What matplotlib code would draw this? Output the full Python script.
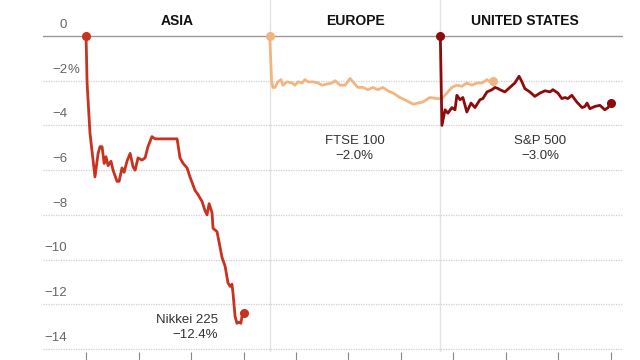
import matplotlib
matplotlib.use('Agg')
import matplotlib.pyplot as plt

# hours relative to midnight ET, values are % change from previous close
nikkei_x = [-4.0, -3.96, -3.85, -3.66, -3.54, -3.47, -3.39, -3.31, -3.24, -3.16, -3.05, -2.97,
            -2.82, -2.74, -2.63, -2.55, -2.44, -2.32, -2.21, -2.13, -2.02, -1.87, -1.75, -1.64,
            -1.49, -1.37, -0.53, -0.42, -0.30, -0.15, -0.04, 0.15, 0.27, 0.42, 0.53, 0.61, 0.69,
            0.80, 0.84, 0.99, 1.10, 1.18, 1.30, 1.41, 1.49, 1.56, 1.60, 1.68, 1.75, 1.83, 1.90,
            1.94, 2.0]
nikkei_y = [0, -2.1, -4.35, -6.3, -5.25, -4.95, -4.95, -5.7, -5.4, -5.8, -5.6, -6.0,
            -6.5, -6.5, -5.9, -6.1, -5.6, -5.25, -5.85, -6.0, -5.45, -5.55, -5.45, -4.95,
            -4.5, -4.6, -4.6, -5.45, -5.7, -5.9, -6.3, -6.9, -7.1, -7.4, -7.8, -8.0, -7.5,
            -7.9, -8.6, -8.75, -9.4, -9.9, -10.3, -11.05, -11.2, -11.1, -11.5, -12.55, -12.85,
            -12.8, -12.85, -12.55, -12.4]

ftse_x = [3.0, 3.07, 3.12, 3.20, 3.31, 3.43, 3.50, 3.66, 3.85, 3.96, 4.08, 4.23, 4.34, 4.46,
          4.65, 4.84, 4.99, 5.18, 5.37, 5.49, 5.68, 5.87, 6.06, 6.17, 6.36, 6.55, 6.74, 6.93,
          7.12, 7.31, 7.50, 7.70, 7.96, 8.23, 8.46, 8.65, 8.84, 9.10, 9.37, 9.56, 9.75, 9.94,
          10.13, 10.32, 10.51, 10.70, 10.90, 11.09, 11.28, 11.39, 11.5]
ftse_y = [0, -2.0, -2.3, -2.3, -2.05, -1.95, -2.2, -2.05, -2.1, -2.2, -2.05, -2.1, -1.95, -2.05,
          -2.05, -2.1, -2.2, -2.15, -2.1, -2.0, -2.2, -2.2, -1.9, -2.05, -2.3, -2.3, -2.4, -2.3,
          -2.4, -2.3, -2.45, -2.55, -2.75, -2.9, -3.05, -3.0, -2.95, -2.75, -2.8, -2.8, -2.55, -2.3,
          -2.2, -2.25, -2.1, -2.2, -2.1, -2.1, -1.95, -2.05, -2.0]

spx_x = [9.5, 9.56, 9.68, 9.79, 9.94, 10.06, 10.13, 10.25, 10.36, 10.51, 10.67, 10.82, 11.01,
         11.12, 11.28, 11.47, 11.58, 11.70, 11.77, 11.96, 12.15, 12.34, 12.50, 12.61, 12.72,
         12.91, 13.10, 13.30, 13.49, 13.68, 13.79, 13.98, 14.13, 14.25, 14.36, 14.51, 14.70,
         14.90, 15.01, 15.09, 15.20, 15.39, 15.58, 15.77, 15.89, 16.0]
spx_y = [0, -4.0, -3.3, -3.45, -3.2, -3.3, -2.65, -2.85, -2.75, -3.4, -3.0, -3.2, -2.85,
         -2.8, -2.5, -2.4, -2.3, -2.35, -2.4, -2.5, -2.3, -2.1, -1.8, -2.05, -2.35,
         -2.5, -2.7, -2.55, -2.45, -2.5, -2.4, -2.55, -2.8, -2.75, -2.8, -2.65, -2.95,
         -3.2, -3.15, -3.0, -3.25, -3.15, -3.1, -3.3, -3.2, -3.0]

regions = ['ASIA', 'EUROPE', 'UNITED STATES']
region_x = [-0.53, 6.25, 12.72]
yticks = [0, -2, -4, -6, -8, -10, -12, -14]
xticks = list(range(-4, 17, 2))
session_starts = [3.0, 9.5]

plt.rcParams['font.family'] = ['Liberation Sans', 'DejaVu Sans']

fig = plt.figure(figsize=(6.4, 3.6), dpi=100)
ax = fig.add_axes([0.0672, 0.0222, 0.9062, 0.9778])
ax.set_xlim(-5.64, 16.46)
ax.set_ylim(-14.134, 1.611)

for s in ax.spines.values():
    s.set_visible(False)

# grid
for v in yticks:
    if v == 0:
        ax.axhline(v, color='#999999', lw=1.0, zorder=1)
    else:
        ax.axhline(v, color='#cfcfcf', lw=0.9, ls=(0, (1, 1)), zorder=1)
    lab = '0' if v == 0 else '\u2212' + str(abs(v))
    ax.text(-4.72, v + 0.5, lab, ha='right', va='center', fontsize=9.5, color='#666666')
    if v == -2:
        ax.text(-4.72, v + 0.5, '%', ha='left', va='center', fontsize=9.5, color='#666666')

for s in session_starts:
    ax.axvline(s, color='#e2e2e2', lw=1.0, zorder=0.5)

ax.set_yticks([])
ax.set_xticks(xticks)
ax.tick_params(axis='x', direction='out', length=6, width=0.8, color='#888888', labelbottom=False)

# lines
series = [(nikkei_x, nikkei_y, '#c9321f'), (ftse_x, ftse_y, '#f3b57f'), (spx_x, spx_y, '#8e0b0b')]
for xs, ys, c in series:
    ax.plot(xs, ys, color=c, lw=2.0, zorder=3, clip_on=False, solid_joinstyle='round')
    ax.plot([xs[0], xs[-1]], [ys[0], ys[-1]], 'o', color=c, ms=5.5, zorder=4, clip_on=False)

for name, x in zip(regions, region_x):
    ax.text(x, 0.68, name, ha='center', va='center', fontsize=10, fontweight='bold', color='#111111')

ax.text(1.03, -12.7, 'Nikkei 225', ha='right', va='center', fontsize=9.5, color='#333333')
ax.text(1.03, -13.37, '\u221212.4%', ha='right', va='center', fontsize=9.5, color='#333333')
ax.text(6.23, -4.7, 'FTSE 100', ha='center', va='center', fontsize=9.5, color='#333333')
ax.text(6.23, -5.37, '\u22122.0%', ha='center', va='center', fontsize=9.5, color='#333333')
ax.text(13.3, -4.7, 'S&P 500', ha='center', va='center', fontsize=9.5, color='#333333')
ax.text(13.3, -5.37, '\u22123.0%', ha='center', va='center', fontsize=9.5, color='#333333')

fig.savefig('out.png', dpi=100)
